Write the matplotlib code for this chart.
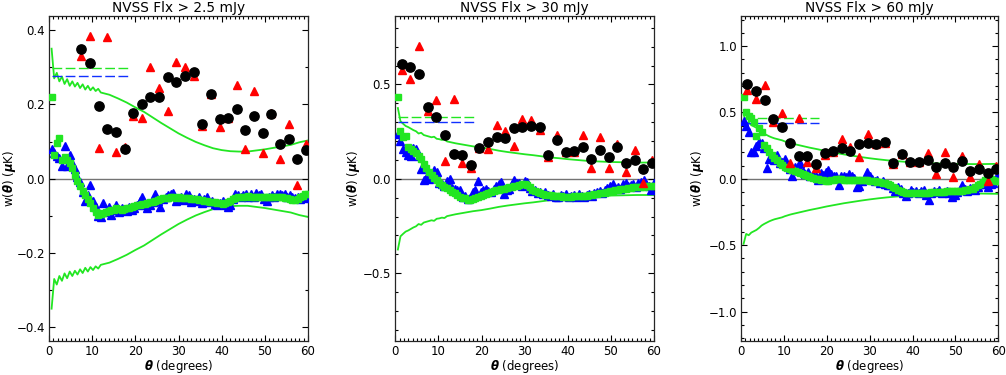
import numpy as np
import matplotlib
matplotlib.use("Agg")
import matplotlib.pyplot as plt
from matplotlib.ticker import MultipleLocator

# ---------------- data ----------------
titles = ["NVSS Flx > 2.5 mJy", "NVSS Flx > 30 mJy", "NVSS Flx > 60 mJy"]

# fine angular grid (deg) for the dense series (green squares, blue triangles)
theta_fine = np.round(np.arange(1, 101) * 0.6, 1)
# grid for the +/- sigma envelope lines
theta_sig = [0.6, 1.2, 1.8, 2.4, 3.0, 3.6, 4.2, 4.8, 5.4, 6.0, 6.6, 7.2, 7.8, 8.4, 9.0,
             9.6, 10.2, 10.8, 11.4, 12.0, 14, 16, 18, 20, 22, 24, 26, 28, 30, 32, 34,
             36, 38, 40, 42, 44, 46, 48, 50, 52, 54, 56, 58, 60]
# coarse bins (deg) for black circles / red triangles
theta_bin = [1.5, 3.5, 5.5, 7.5, 9.5, 11.5, 13.5, 15.5, 17.5, 19.5, 21.5, 23.5, 25.5,
             27.5, 29.5, 31.5, 33.5, 35.5, 37.5, 39.5, 41.5, 43.5, 45.5, 47.5, 49.5,
             51.5, 53.5, 55.5, 57.5, 59.5]

# ---- panel 1 (> 2.5 mJy) ----
bin1 = theta_bin[3:]
black1 = [0.349, 0.312, 0.196, 0.133, 0.125, 0.079, 0.177, 0.201, 0.221, 0.221, 0.275,
          0.261, 0.277, 0.288, 0.148, 0.227, 0.160, 0.163, 0.188, 0.132, 0.170, 0.122,
          0.175, 0.093, 0.106, 0.054, 0.078]
red1 = [0.329, 0.383, 0.083, 0.381, 0.072, 0.085, 0.168, 0.163, 0.300, 0.244, 0.183,
        0.313, 0.302, 0.277, 0.141, 0.227, 0.138, 0.163, 0.251, 0.081, 0.235, 0.069,
        0.177, 0.054, 0.147, -0.016, 0.093]
green1 = [0.220, 0.065, 0.096, 0.110, 0.049, 0.058, 0.049, 0.042, 0.029, 0.009,
          -0.007, -0.020, -0.034, -0.045, -0.055, -0.065, -0.080, -0.090, -0.097, -0.095,
          -0.092, -0.090, -0.088, -0.085, -0.083, -0.080, -0.082, -0.084, -0.082, -0.080,
          -0.078, -0.076, -0.074, -0.072, -0.070, -0.068, -0.067, -0.065, -0.064, -0.062,
          -0.060, -0.057, -0.055, -0.053, -0.052, -0.051, -0.050, -0.050, -0.051, -0.050,
          -0.051, -0.052, -0.053, -0.052, -0.054, -0.055, -0.056, -0.057, -0.058, -0.059,
          -0.060, -0.062, -0.063, -0.064, -0.065, -0.066, -0.067, -0.066, -0.064, -0.060,
          -0.055, -0.052, -0.050, -0.049, -0.048, -0.048, -0.047, -0.048, -0.049, -0.049,
          -0.048, -0.048, -0.048, -0.049, -0.050, -0.050, -0.050, -0.050, -0.049, -0.050,
          -0.051, -0.052, -0.054, -0.057, -0.058, -0.055, -0.050, -0.046, -0.042, -0.040]
blue1 = [0.080, 0.070, 0.060, 0.055, 0.035, 0.088, 0.035, 0.063, 0.043, 0.025,
         0.005, -0.010, -0.035, -0.060, -0.045, -0.016, -0.060, -0.075, -0.100, -0.103,
         -0.065, -0.090, -0.075, -0.097, -0.085, -0.070, -0.090, -0.080, -0.083, -0.088,
         -0.075, -0.085, -0.080, -0.070, -0.060, -0.048, -0.072, -0.080, -0.070, -0.062,
         -0.040, -0.060, -0.075, -0.055, -0.050, -0.045, -0.040, -0.038, -0.060, -0.055,
         -0.050, -0.058, -0.040, -0.045, -0.062, -0.055, -0.060, -0.048, -0.065, -0.055,
         -0.050, -0.062, -0.060, -0.068, -0.070, -0.065, -0.060, -0.070, -0.075, -0.072,
         -0.055, -0.040, -0.045, -0.050, -0.045, -0.040, -0.048, -0.040, -0.050, -0.038,
         -0.045, -0.040, -0.055, -0.060, -0.050, -0.045, -0.048, -0.042, -0.040, -0.045,
         -0.040, -0.050, -0.045, -0.048, -0.052, -0.050, -0.055, -0.048, -0.050, -0.052]
sigma1 = [0.350, 0.270, 0.285, 0.262, 0.275, 0.255, 0.268, 0.250, 0.262, 0.248, 0.258,
          0.244, 0.254, 0.240, 0.250, 0.238, 0.246, 0.236, 0.242, 0.232, 0.226, 0.216,
          0.205, 0.192, 0.180, 0.165, 0.150, 0.136, 0.122, 0.110, 0.099, 0.090, 0.082,
          0.077, 0.074, 0.073, 0.073, 0.076, 0.079, 0.083, 0.087, 0.091, 0.098, 0.103]
dash_green1, dash_blue1 = 0.297, 0.277

# ---- panel 2 (> 30 mJy) ----
bin2 = theta_bin
black2 = [0.609, 0.592, 0.556, 0.382, 0.330, 0.233, 0.134, 0.125, 0.071, 0.163, 0.193,
          0.219, 0.214, 0.269, 0.274, 0.281, 0.272, 0.127, 0.208, 0.143, 0.145, 0.166,
          0.106, 0.150, 0.118, 0.168, 0.085, 0.097, 0.053, 0.083]
red2 = [0.578, 0.528, 0.705, 0.360, 0.419, 0.095, 0.422, 0.083, 0.057, 0.163, 0.160,
        0.286, 0.251, 0.176, 0.318, 0.313, 0.256, 0.115, 0.230, 0.140, 0.140, 0.233,
        0.057, 0.221, 0.057, 0.183, 0.035, 0.152, -0.023, 0.100]
green2 = [0.433, 0.251, 0.224, 0.229, 0.171, 0.157, 0.145, 0.136, 0.122, 0.104,
          0.080, 0.055, 0.035, 0.018, 0.004, -0.008, -0.020, -0.032, -0.042, -0.050,
          -0.058, -0.068, -0.078, -0.088, -0.095, -0.100, -0.104, -0.110, -0.112, -0.108,
          -0.104, -0.098, -0.092, -0.086, -0.080, -0.075, -0.070, -0.066, -0.062, -0.058,
          -0.055, -0.052, -0.049, -0.046, -0.043, -0.040, -0.036, -0.032, -0.028, -0.026,
          -0.032, -0.045, -0.058, -0.066, -0.072, -0.078, -0.082, -0.085, -0.087, -0.088,
          -0.090, -0.091, -0.092, -0.093, -0.094, -0.094, -0.094, -0.094, -0.093, -0.093,
          -0.092, -0.091, -0.090, -0.089, -0.087, -0.085, -0.083, -0.080, -0.078, -0.076,
          -0.073, -0.070, -0.067, -0.064, -0.061, -0.058, -0.056, -0.054, -0.052, -0.050,
          -0.048, -0.046, -0.044, -0.043, -0.042, -0.041, -0.040, -0.039, -0.038, -0.037]
blue2 = [0.240, 0.200, 0.160, 0.140, 0.124, 0.120, 0.165, 0.160, 0.120, 0.050,
         -0.005, 0.005, 0.000, 0.010, 0.048, 0.035, -0.020, -0.030, -0.040, -0.010,
         0.000, -0.049, -0.055, -0.060, -0.062, -0.097, -0.090, -0.106, -0.100, -0.071,
         -0.060, -0.014, -0.071, -0.060, -0.053, -0.065, -0.070, -0.053, -0.040, -0.030,
         -0.018, -0.080, -0.060, -0.055, -0.030, -0.007, -0.020, -0.025, -0.040, -0.010,
         -0.015, -0.050, -0.065, -0.060, -0.075, -0.070, -0.080, -0.070, -0.085, -0.090,
         -0.080, -0.095, -0.097, -0.085, -0.090, -0.080, -0.095, -0.090, -0.085, -0.095,
         -0.080, -0.090, -0.097, -0.085, -0.080, -0.090, -0.075, -0.070, -0.065, -0.075,
         -0.060, -0.050, -0.040, -0.026, -0.050, -0.045, -0.055, -0.030, -0.020, -0.040,
         -0.035, -0.030, -0.045, -0.025, -0.015, -0.007, -0.030, -0.040, -0.060, -0.020]
sigma2 = [0.375, 0.305, 0.292, 0.280, 0.274, 0.266, 0.258, 0.252, 0.240, 0.244, 0.232,
          0.228, 0.224, 0.220, 0.223, 0.212, 0.210, 0.206, 0.208, 0.198, 0.188, 0.180,
          0.172, 0.166, 0.158, 0.149, 0.142, 0.136, 0.130, 0.125, 0.119, 0.113, 0.109,
          0.104, 0.100, 0.096, 0.093, 0.091, 0.089, 0.088, 0.087, 0.086, 0.086, 0.086]
dash_green2, dash_blue2 = 0.327, 0.300

# ---- panel 3 (> 60 mJy) ----
bin3 = theta_bin
black3 = [0.713, 0.663, 0.595, 0.450, 0.392, 0.269, 0.173, 0.173, 0.111, 0.194, 0.213,
          0.236, 0.211, 0.263, 0.267, 0.262, 0.275, 0.118, 0.187, 0.128, 0.128, 0.140,
          0.088, 0.123, 0.087, 0.134, 0.062, 0.073, 0.043, 0.075]
red3 = [0.666, 0.603, 0.708, 0.432, 0.495, 0.118, 0.457, 0.130, 0.080, 0.180, 0.205,
        0.299, 0.243, 0.161, 0.337, 0.260, 0.270, 0.115, 0.185, 0.130, 0.130, 0.197,
        0.040, 0.203, 0.015, 0.170, 0.015, 0.112, -0.020, 0.100]
green3 = [0.615, 0.505, 0.470, 0.458, 0.432, 0.320, 0.380, 0.350, 0.255, 0.230,
          0.205, 0.180, 0.160, 0.140, 0.120, 0.105, 0.092, 0.080, 0.072, 0.065,
          0.058, 0.050, 0.043, 0.035, 0.028, 0.020, 0.013, 0.005, 0.000, -0.005,
          -0.010, -0.012, -0.014, -0.015, -0.012, -0.008, -0.005, -0.003, -0.005, -0.008,
          -0.010, -0.008, -0.006, -0.008, -0.010, -0.008, -0.006, -0.008, -0.012, -0.015,
          -0.018, -0.020, -0.022, -0.025, -0.028, -0.032, -0.038, -0.048, -0.060, -0.072,
          -0.083, -0.092, -0.100, -0.104, -0.106, -0.108, -0.108, -0.108, -0.107, -0.106,
          -0.105, -0.104, -0.103, -0.102, -0.101, -0.100, -0.098, -0.097, -0.096, -0.095,
          -0.094, -0.093, -0.092, -0.091, -0.090, -0.088, -0.086, -0.083, -0.080, -0.075,
          -0.065, -0.050, -0.038, -0.025, -0.012, -0.006, -0.004, -0.008, -0.014, -0.020]
blue3 = [0.435, 0.400, 0.350, 0.205, 0.200, 0.250, 0.281, 0.270, 0.230, 0.080,
         0.150, 0.168, 0.140, 0.180, 0.120, 0.130, 0.150, 0.100, 0.073, 0.020,
         0.090, 0.098, 0.120, 0.060, 0.040, 0.055, 0.020, 0.030, 0.018, -0.010,
         0.043, 0.030, 0.050, 0.068, 0.040, 0.018, 0.025, -0.045, 0.020, 0.025,
         0.015, 0.038, 0.020, 0.010, -0.063, -0.055, -0.020, 0.010, 0.055, 0.020,
         0.000, -0.020, -0.010, -0.030, -0.020, -0.040, -0.045, -0.050, -0.070, -0.095,
         -0.060, -0.080, -0.108, -0.133, -0.110, -0.083, -0.100, -0.090, -0.110, -0.095,
         -0.085, -0.120, -0.158, -0.110, -0.095, -0.100, -0.085, -0.110, -0.100, -0.090,
         -0.110, -0.138, -0.120, -0.100, -0.083, -0.045, -0.080, -0.090, -0.070, -0.080,
         -0.083, -0.060, -0.040, -0.020, -0.040, -0.058, -0.040, -0.033, 0.010, 0.023]
sigma3 = [0.490, 0.415, 0.425, 0.405, 0.395, 0.385, 0.370, 0.352, 0.340, 0.330, 0.320,
          0.312, 0.305, 0.300, 0.295, 0.290, 0.282, 0.276, 0.270, 0.265, 0.250, 0.235,
          0.222, 0.208, 0.196, 0.184, 0.174, 0.164, 0.155, 0.147, 0.140, 0.134, 0.129,
          0.124, 0.121, 0.118, 0.116, 0.114, 0.113, 0.112, 0.111, 0.111, 0.112, 0.113]
dash_green3, dash_blue3 = 0.457, 0.424

dash_range = [0.6, 18.3]

panels = [
    dict(bins=bin1, black=black1, red=red1, green=green1, blue=blue1, sigma=sigma1,
         dg=dash_green1, db=dash_blue1),
    dict(bins=bin2, black=black2, red=red2, green=green2, blue=blue2, sigma=sigma2,
         dg=dash_green2, db=dash_blue2),
    dict(bins=bin3, black=black3, red=red3, green=green3, blue=blue3, sigma=sigma3,
         dg=dash_green3, db=dash_blue3),
]

# ---------------- layout / style ----------------
W, H = 1006, 375
axes_px = [(49, 308), (395.3, 654), (741, 998.3)]
ylabel_px = [9, 353, 698]
y_top, y_bot = 16, 341
ylims = [(-0.437, 0.438), (-0.86, 0.863), (-1.222, 1.227)]
ymajor = [0.2, 0.5, 0.5]
yminor = [0.1, 0.1, 0.1]

GREEN = "#22e622"
fig = plt.figure(figsize=(W / 100, H / 100), dpi=100)

for i, p in enumerate(panels):
    l, r = axes_px[i]
    ax = fig.add_axes([l / W, (H - y_bot) / H, (r - l) / W, (y_bot - y_top) / H])
    sig = np.array(p["sigma"])
    ax.axhline(0, color="0.45", lw=1.0, zorder=1)
    ax.plot(theta_sig, sig, color=GREEN, lw=1.3, zorder=2)
    ax.plot(theta_sig, -sig, color=GREEN, lw=1.3, zorder=2)
    ax.plot(dash_range, [p["dg"]] * 2, color=GREEN, lw=1.0, dashes=(7, 2.5), zorder=2)
    ax.plot(dash_range, [p["db"]] * 2, color="#1030ff", lw=1.0, dashes=(7, 2.5), zorder=2)
    ax.plot(theta_fine, p["blue"], ls="none", marker="^", ms=5.6, color="#0000ff",
            mec="#0000ff", zorder=3)
    ax.plot(theta_fine, p["green"], ls="none", marker="s", ms=3.8, color=GREEN,
            mec=GREEN, zorder=4)
    ax.plot(p["bins"], p["red"], ls="none", marker="^", ms=6.0, color="#ff0000",
            mec="#ff0000", zorder=5)
    ax.plot(p["bins"], p["black"], ls="none", marker="o", ms=6.7, color="black",
            mec="black", zorder=6)

    ax.set_xlim(0, 60)
    ax.set_ylim(*ylims[i])
    ax.xaxis.set_major_locator(MultipleLocator(10))
    ax.xaxis.set_minor_locator(MultipleLocator(1))
    ax.yaxis.set_major_locator(MultipleLocator(ymajor[i]))
    ax.yaxis.set_minor_locator(MultipleLocator(yminor[i]))
    ax.tick_params(which="both", direction="in", top=True, right=True,
                   labelsize=8.5, colors="black", width=0.8)
    ax.tick_params(which="major", length=4.5, pad=3)
    ax.tick_params(which="minor", length=2.2)
    for s in ax.spines.values():
        s.set_linewidth(0.9)
        s.set_color("0.15")
    ax.set_title(titles[i], fontsize=9.8, pad=3)
    ax.set_xlabel(r"$\boldsymbol{\theta}$ (degrees)", fontsize=8.5, labelpad=0)
    ax.set_ylabel(r"w($\boldsymbol{\theta}$) ($\boldsymbol{\mu}$K)", fontsize=8.5,
                  va="center")
    ax.yaxis.set_label_coords((ylabel_px[i] - l) / (r - l), 0.5)

fig.savefig("out.png", dpi=100)
